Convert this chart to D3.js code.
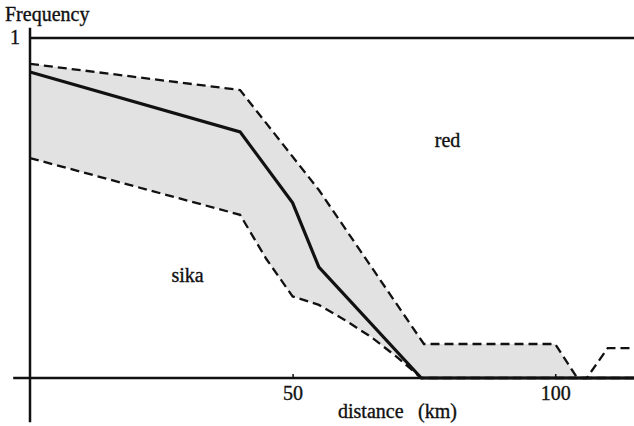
<!DOCTYPE html>
<html><head><meta charset="utf-8">
<script src="https://cdn.jsdelivr.net/npm/d3@7"></script>
<style>body{margin:0;background:#fff}svg{display:block}text{font-family:"Liberation Serif","Times New Roman",serif;fill:#111;stroke:#111;stroke-width:0.35px}</style>
</head><body><svg id="c" width="634" height="426"></svg>
<script>
// distance (km), frequency
const meanLine = [[0,0.9],[40,0.724],[50,0.515],[55,0.326],[74.5,0],[115,0]];
const upperBound = [[0,0.924],[40,0.847],[55,0.553],[75,0.1],[100,0.1],[104.2,0],[106,0],[110,0.088],[115,0.088]];
const lowerBound = [[0,0.647],[40,0.48],[45,0.35],[50,0.24],[55,0.215],[60,0.17],[65,0.12],[70,0.06],[74.5,0],[115,0]];
const shadeEnd = 104.2;
const xTicks = [50,100];
const yTopValue = 1;
const regionLabels = [{text:"red", x:79.5, y:0.68},{text:"sika", x:30, y:0.282}];

const svg = d3.select("#c");
const x = d3.scaleLinear().domain([0,115]).range([30,634]);
const y = d3.scaleLinear().domain([0,1]).range([378,38]);

// shaded band
const upperShade = upperBound.filter(d=>d[0]<=shadeEnd);
const lowerShade = lowerBound.filter(d=>d[0]<shadeEnd).concat([[shadeEnd,0]]);
const poly = upperShade.concat(lowerShade.slice().reverse());
svg.append("path")
  .attr("d", d3.line().x(d=>x(d[0])).y(d=>y(d[1])).curve(d3.curveLinearClosed)(poly))
  .attr("fill","#e2e2e2").attr("stroke","none");

const line = d3.line().x(d=>x(d[0])).y(d=>y(d[1]));
// dashed bounds
svg.append("path").attr("d", line(upperBound)).attr("fill","none")
  .attr("stroke","#111").attr("stroke-width",2.3).attr("stroke-dasharray","9,5");
svg.append("path").attr("d", line(lowerBound)).attr("fill","none")
  .attr("stroke","#111").attr("stroke-width",2.3).attr("stroke-dasharray","9,5");

// axes
const xAxis = d3.axisBottom(x).tickValues(xTicks).tickSize(-4).tickPadding(14).tickFormat(d3.format("d"));
const gx = svg.append("g").attr("transform",`translate(0,${y(0)})`).call(xAxis);
gx.select(".domain").remove();
gx.selectAll(".tick line").attr("stroke","#111").attr("stroke-width",1.5);
gx.selectAll(".tick text").attr("font-size",20).attr("font-family","Liberation Serif").attr("fill","#111").attr("dy","0.42em");

svg.append("line").attr("x1",x(-3.2)).attr("x2",x(115)).attr("y1",y(0)).attr("y2",y(0))
  .attr("stroke","#111").attr("stroke-width",2.5);
svg.append("line").attr("x1",x(0)).attr("x2",x(0)).attr("y1",y(-0.13)).attr("y2",y(1.03))
  .attr("stroke","#111").attr("stroke-width",2.5);
svg.append("line").attr("x1",x(0)).attr("x2",x(115)).attr("y1",y(yTopValue)).attr("y2",y(yTopValue))
  .attr("stroke","#111").attr("stroke-width",2.5);

// mean line
svg.append("path").attr("d", line(meanLine)).attr("fill","none")
  .attr("stroke","#111").attr("stroke-width",3.2).attr("stroke-linejoin","miter");

// text
svg.append("text").attr("x",5).attr("y",21).attr("font-size",20).text("Frequency");
svg.append("text").attr("x",15).attr("y",y(yTopValue)+6).attr("text-anchor","middle").attr("font-size",20).text(yTopValue);
svg.append("text").attr("x",338).attr("y",418).attr("font-size",20).text("distance");
svg.append("text").attr("x",457).attr("y",418).attr("text-anchor","end").attr("font-size",20).text("(km)");
regionLabels.forEach(l=>{
  svg.append("text").attr("x",x(l.x)).attr("y",y(l.y)).attr("text-anchor","middle").attr("font-size",20).text(l.text);
});
</script></body></html>
